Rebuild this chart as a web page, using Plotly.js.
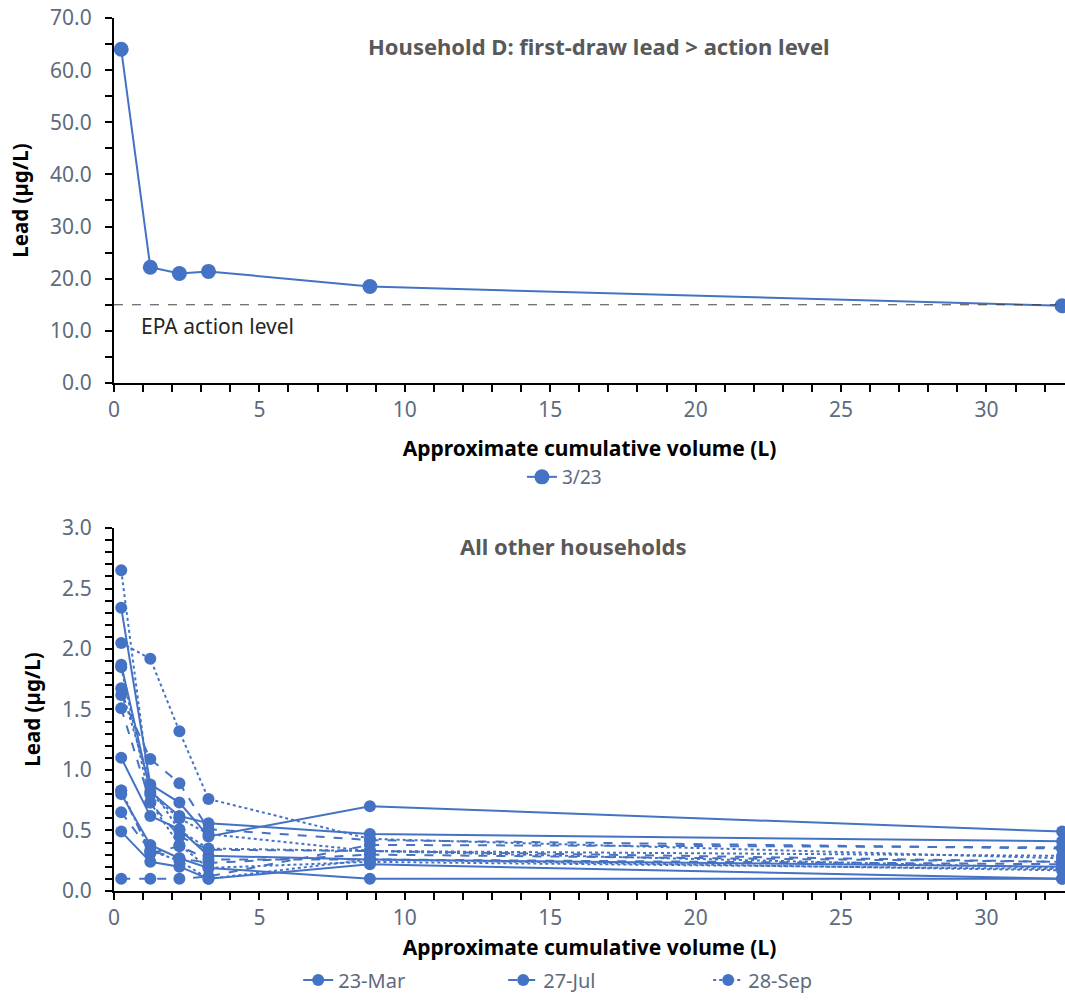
<!DOCTYPE html>
<html>
<head>
<meta charset="utf-8">
<script src="https://cdn.plot.ly/plotly-3.0.1.min.js"></script>
<style>html,body{margin:0;padding:0;background:#fff;}#chart{width:1065px;height:1001px;}</style>
</head>
<body>
<div id="chart"></div>
<script>
// Cumulative volume (L) at each sample
const volume = [0.25, 1.25, 2.25, 3.25, 8.8, 32.6];

// Household D, 3/23
const householdD = [64.0, 22.2, 21.0, 21.4, 18.5, 14.8];
const actionLevel = 15;

// All other households
const mar23 = [
  [2.34, 0.88, 0.73, 0.45, 0.70, 0.49],
  [1.87, 0.82, 0.62, 0.56, 0.47, 0.41],
  [1.10, 0.62, 0.51, 0.29, 0.26, 0.20],
  [0.80, 0.38, 0.27, 0.19, 0.10, 0.10],
  [0.49, 0.24, 0.20, 0.10, 0.22, 0.10]
];
const jul27 = [
  [1.62, 1.09, 0.89, 0.51, 0.42, 0.35],
  [1.51, 0.73, 0.45, 0.34, 0.33, 0.24],
  [0.83, 0.31, 0.37, 0.26, 0.26, 0.22],
  [0.65, 0.33, 0.27, 0.23, 0.30, 0.24],
  [0.10, 0.10, 0.10, 0.12, 0.38, 0.36]
];
const sep28 = [
  [2.65, 0.80, 0.60, 0.47, 0.33, 0.29],
  [2.05, 1.92, 1.32, 0.76, 0.43, 0.27],
  [1.675, 0.86, 0.50, 0.35, 0.33, 0.19],
  [1.85, 0.73, 0.38, 0.19, 0.24, 0.18],
  [0.83, 0.33, 0.25, 0.10, 0.26, 0.17]
];
const groupNames = ['23-Mar', '27-Jul', '28-Sep'];
const groupDash = ['solid', 'dash', 'dot'];

const blue = '#4472C4';
const tickColor = '#5d6b7e';
const FONT = 'Noto Sans, sans-serif';

const traces = [];
traces.push({
  x: volume, y: householdD, type: 'scatter', mode: 'lines+markers',
  name: '3/23', xaxis: 'x', yaxis: 'y', legend: 'legend', showlegend: true, cliponaxis: false,
  line: {color: blue, width: 2}, marker: {color: blue, size: 15}
});
[mar23, jul27, sep28].forEach((grp, gi) => {
  grp.forEach((vals, i) => {
    traces.push({
      x: volume, y: vals, type: 'scatter', mode: 'lines+markers',
      name: groupNames[gi], legendgroup: groupNames[gi], showlegend: i === 0,
      xaxis: 'x2', yaxis: 'y2', legend: 'legend2', cliponaxis: false,
      line: {color: blue, width: 2, dash: groupDash[gi]},
      marker: {color: blue, size: 12}
    });
  });
});

const tickMinor = (d) => ({dtick: d, ticks: 'outside', ticklen: 7, tickwidth: 2, tickcolor: '#000'});
const tickFont = {family: FONT, size: 21, color: tickColor};
const xCommon = {
  range: [0, 32.7], dtick: 5, tick0: 0, showgrid: false, zeroline: false,
  showline: true, linecolor: '#000', linewidth: 2,
  ticks: 'outside', ticklen: 7, tickwidth: 2, tickcolor: '#000',
  minor: tickMinor(1),
  tickfont: tickFont,
  automargin: false
};
const xTitleFont = {family: FONT, size: 21, color: '#000', weight: 'bold'};
const yCommon = {
  showgrid: false, zeroline: false, showline: true, linecolor: '#000', linewidth: 2,
  ticks: 'outside', ticklen: 7, tickwidth: 2, tickcolor: '#000',
  ticklabelstandoff: 9,
  tickformat: '.1f', tickfont: tickFont,
  automargin: false,
  title: {text: 'Lead (µg/L)', font: {family: FONT, size: 20.5, color: '#000', weight: 'bold'}, standoff: 16}
};

const layout = {
  width: 1065, height: 1001,
  margin: {l: 0, r: 0, t: 0, b: 0},
  paper_bgcolor: '#fff', plot_bgcolor: '#fff',
  font: {family: FONT},
  showlegend: true,
  xaxis: Object.assign({}, xCommon, {domain: [0.107, 1], anchor: 'y',
    title: {text: 'Approximate cumulative volume (L)', font: xTitleFont, standoff: 19}}),
  yaxis: Object.assign({}, yCommon, {domain: [0.6174, 0.982], range: [0, 70], dtick: 10,
    minor: tickMinor(5), anchor: 'x'}),
  xaxis2: Object.assign({}, xCommon, {domain: [0.107, 1], anchor: 'y2',
    title: {text: 'Approximate cumulative volume (L)', font: xTitleFont, standoff: 10}}),
  yaxis2: Object.assign({}, yCommon, {domain: [0.110, 0.4725], range: [0, 3], dtick: 0.5,
    minor: tickMinor(0.1), anchor: 'x2'}),
  shapes: [{
    type: 'line', xref: 'x', yref: 'y', x0: 0, x1: 32.4, y0: actionLevel, y1: actionLevel,
    line: {color: '#404040', width: 1, dash: 'dash'}
  }],
  annotations: [
    {text: '<b>Household D: first-draw lead > action level</b>', xref: 'paper', yref: 'paper',
     x: 0.562, y: 1 - 46/1001, xanchor: 'center', yanchor: 'middle', showarrow: false,
     font: {family: FONT, size: 22, color: '#595959'}},
    {text: '<b>All other households</b>', xref: 'paper', yref: 'paper',
     x: 0.538, y: 1 - 546/1001, xanchor: 'center', yanchor: 'middle', showarrow: false,
     font: {family: FONT, size: 22, color: '#595959'}},
    {text: 'EPA action level', xref: 'x', yref: 'y', x: 0.85, y: 11.0, xanchor: 'left', yanchor: 'middle',
     showarrow: false, font: {family: FONT, size: 21, color: '#262626'}}
  ],
  legend: {orientation: 'h', x: 0.530, xanchor: 'center', y: 1 - 477/1001, yanchor: 'middle',
    font: {family: FONT, size: 19, color: tickColor}, bgcolor: 'rgba(0,0,0,0)'},
  legend2: {orientation: 'h', x: 0.280, xanchor: 'left', y: 1 - 980/1001, yanchor: 'middle',
    font: {family: FONT, size: 20, color: tickColor}, bgcolor: 'rgba(0,0,0,0)',
    entrywidth: 160, entrywidthmode: 'pixels'}
};

Plotly.newPlot('chart', traces, layout, {displayModeBar: false, staticPlot: true});
</script>
</body>
</html>
